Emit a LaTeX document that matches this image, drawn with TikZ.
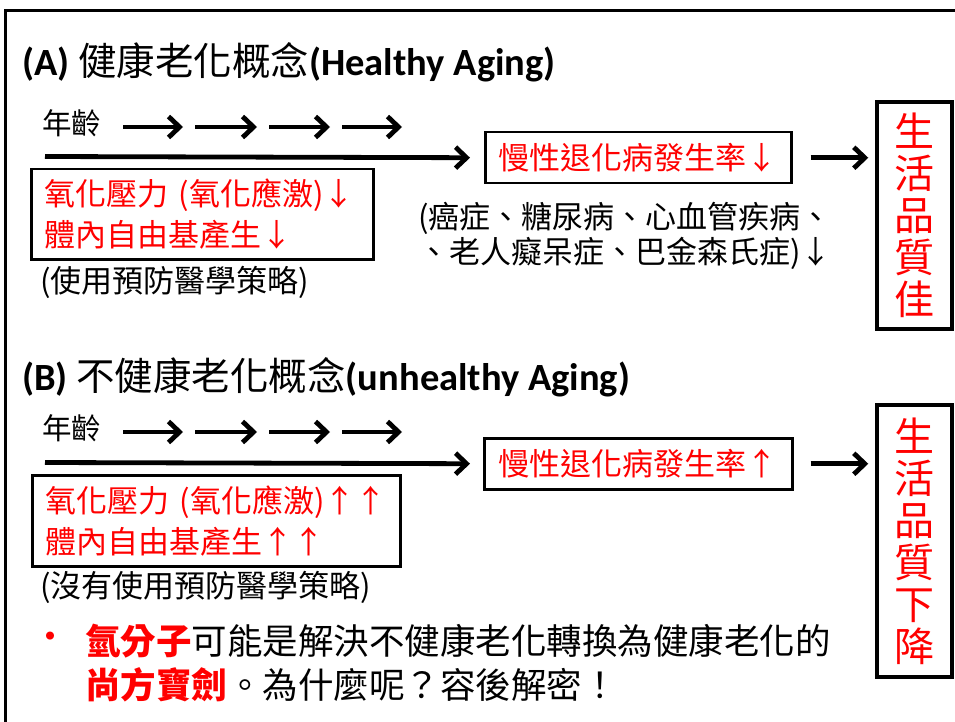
\documentclass[tikz,border=0pt]{standalone}
\usepackage{fontspec}
\setmainfont{Noto Sans CJK TC}
\newfontfamily\latinfont{Carlito}
\usetikzlibrary{arrows.meta}
\definecolor{hired}{RGB}{255,0,0}
\tikzset{
  frameline/.style={line width=3pt},
  heading/.style={anchor=west, inner sep=0pt, font=\fontsize{38.5pt}{40pt}\selectfont},
  agelabel/.style={anchor=west, inner sep=0pt, font=\fontsize{29.5pt}{32pt}\selectfont},
  flow/.style={line width=4.8pt, -{Straight Barb[length=11pt,width=21pt]}},
  stressbox/.style={draw, line width=2.5pt, anchor=north west, inner xsep=13pt, inner ysep=0pt,
    align=left, text=hired, font=\fontsize{31pt}{41pt}\selectfont},
  ratebox/.style={draw, line width=2.5pt, anchor=north west, inner sep=0pt,
    text=hired, font=\fontsize{31pt}{34pt}\selectfont},
  notetext/.style={anchor=west, inner sep=0pt, align=left, font=\fontsize{31pt}{35pt}\selectfont},
  qolbox/.style={draw, line width=3.5pt, minimum width=75pt, inner sep=0pt, align=center,
    text=hired, font=\fontsize{40pt}{42pt}\selectfont},
  bodytext/.style={anchor=west, inner sep=0pt, align=left, font=\fontsize{35.5pt}{44pt}\selectfont},
}
\begin{document}
\begin{tikzpicture}[x=1pt, y=-1pt]
\useasboundingbox (0,0) rectangle (955,722);
% outer frame (left and top edges)
\draw[frameline] (960,11) -- (5,11) -- (5,730);

% ---------------- (A) healthy ageing ----------------
\node[heading] (titleA) at (22,62)
  {{\latinfont\bfseries (A) }健康老化概念{\latinfont\bfseries (Healthy Aging)}};
\node[agelabel] (ageA) at (42,123) {年齡};
\foreach \i/\xa/\xb in {1/123/183, 2/195/257, 3/269/330, 4/342/402} {
  \coordinate (stepA\i s) at (\xa,127);
  \coordinate (stepA\i e) at (\xb,127);
  \draw[flow] (stepA\i s) -- (stepA\i e);
}
\node[ratebox, minimum width=306pt, minimum height=51pt] (rateA) at (484,131)
  {慢性退化病發生率↓};
\coordinate (lifeA) at (45,156.5);
\draw[flow, shorten >=14pt] (lifeA) -- (rateA.west);
\node[stressbox, minimum width=342pt, minimum height=90pt, text width=316pt] (stressA) at (30,168)
  {氧化壓力 (氧化應激)↓\\體內自由基產生↓};
\node[notetext] (noteA) at (40,282) {(使用預防醫學策略)};
\node[notetext] (diseaseA) at (418,235.5)
  {(癌症、糖尿病、心血管疾病、\\、老人癡呆症、巴金森氏症)↓};
\node[qolbox, minimum height=227pt] (qolA) at (914.5,215.5) {生\\活\\品\\質\\佳};
\draw[flow, shorten <=18pt, shorten >=7pt] (rateA.east) -- (rateA.east -| qolA.west);

% ---------------- (B) unhealthy ageing ----------------
\node[heading] (titleB) at (22,377)
  {{\latinfont\bfseries (B) }不健康老化概念{\latinfont\bfseries (unhealthy Aging)}};
\node[agelabel] (ageB) at (42,428) {年齡};
\foreach \i/\xa/\xb in {1/123/183, 2/195/257, 3/269/330, 4/342/402} {
  \coordinate (stepB\i s) at (\xa,432);
  \coordinate (stepB\i e) at (\xb,432);
  \draw[flow] (stepB\i s) -- (stepB\i e);
}
\node[ratebox, minimum width=308pt, minimum height=51pt] (rateB) at (483,437)
  {慢性退化病發生率↑};
\coordinate (lifeB) at (45,462.5);
\draw[flow, shorten >=13pt] (lifeB) -- (rateB.west);
\node[stressbox, minimum width=368pt, minimum height=91pt, text width=342pt] (stressB) at (31,474)
  {氧化壓力 (氧化應激)↑↑\\體內自由基產生↑↑};
\node[notetext] (noteB) at (40,587) {(沒有使用預防醫學策略)};
\node[qolbox, minimum height=272pt] (qolB) at (914.5,541) {生\\活\\品\\質\\下\\降};
\draw[flow, shorten <=17pt, shorten >=7pt] (rateB.east) -- (rateB.east -| qolB.west);

% ---------------- closing remark ----------------
\node[anchor=center, inner sep=0pt, text=hired, font=\fontsize{38pt}{38pt}\selectfont] (bullet) at (50,641) {•};
\node[bodytext] (remark) at (85,663)
  {{\color{hired}\bfseries 氫分子}可能是解決不健康老化轉換為健康老化的\\
   {\color{hired}\bfseries 尚方寶劍}。為什麼呢？容後解密！};
\end{tikzpicture}
\end{document}
